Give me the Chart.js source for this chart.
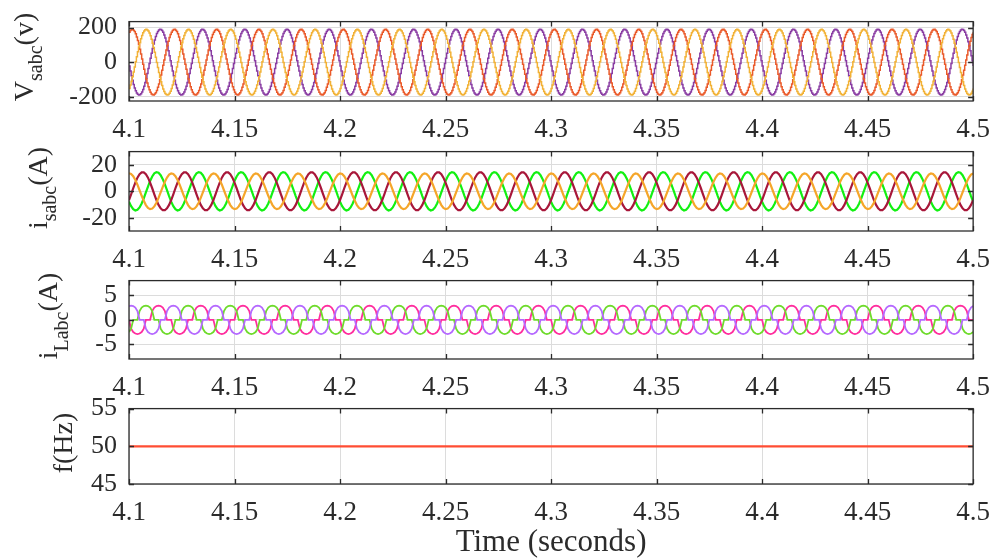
<!DOCTYPE html>
<html>
<head>
<meta charset="utf-8">
<script src="https://cdn.jsdelivr.net/npm/chart.js@4/dist/chart.umd.min.js"></script>
<style>
  html, body { margin: 0; padding: 0; background: #ffffff; }
  body { width: 1003px; height: 560px; overflow: hidden; position: relative; }
  canvas { position: absolute; left: 0; }
</style>
</head>
<body>
<canvas id="c1"></canvas>
<canvas id="c2"></canvas>
<canvas id="c3"></canvas>
<canvas id="c4"></canvas>
<script>
// ---------------- data ----------------
const timeStart = 4.1;
const timeEnd = 4.5;
const cycleMs = 20;              // 50 Hz: one cycle = 20 ms; each table below holds one cycle
const xTickValues = [4.1, 4.15, 4.2, 4.25, 4.3, 4.35, 4.4, 4.45, 4.5];
const xTickLabels = ['4.1', '4.15', '4.2', '4.25', '4.3', '4.35', '4.4', '4.45', '4.5'];

// source voltages, one cycle each, sampled every 0.5 ms (V)
const vsa = [174, 184, 189, 190, 185, 177, 164, 146, 126, 102, 75, 47, 18, -12, -41, -70, -97, -121, -143, -160,
             -174, -184, -189, -190, -185, -177, -164, -146, -126, -102, -75, -47, -18, 12, 41, 70, 97, 121, 143, 160];
const vsb = [-153, -133, -110, -85, -57, -28, 2, 31, 60, 88, 113, 135, 155, 170, 181, 188, 190, 187, 180, 169,
             153, 133, 110, 85, 57, 28, -2, -31, -60, -88, -113, -135, -155, -170, -181, -188, -190, -187, -180, -169];
const vsc = [-22, -51, -79, -105, -129, -149, -166, -178, -186, -190, -189, -183, -173, -158, -140, -118, -93, -66, -37, -8,
             22, 51, 79, 105, 129, 149, 166, 178, 186, 190, 189, 183, 173, 158, 140, 118, 93, 66, 37, 8];
const vTicks = [-200, 0, 200];
const vTickLabels = ['-200', '0', '200'];

// source currents, one cycle each, sampled every 1 ms (A)
const isa = [13.5, 13.1, 11.4, 8.6, 5.0, 0.8, -3.4, -7.2, -10.4, -12.6, -13.5, -13.1, -11.4, -8.6, -5.0, -0.8, 3.4, 7.2, 10.4, 12.6];
const isb = [-6.6, -2.3, 2.3, 6.6, 10.3, 12.9, 14.3, 14.3, 12.9, 10.3, 6.6, 2.3, -2.3, -6.6, -10.3, -12.9, -14.3, -14.3, -12.9, -10.3];
const isc = [-7.8, -11.2, -13.5, -14.5, -14.0, -12.2, -9.2, -5.3, -0.9, 3.6, 7.8, 11.2, 13.5, 14.5, 14.0, 12.2, 9.2, 5.3, 0.9, -3.6];
const iTicks = [-20, 0, 20];
const iTickLabels = ['-20', '0', '20'];

// load currents, one cycle each, sampled every 1 ms (A)
const iLa = [2.8, 2.9, 2.8, 2.5, 1.8, 0, 0, 0, -1.8, -2.5, -2.8, -2.9, -2.8, -2.5, -1.8, 0, 0, 0, 1.8, 2.5];
const iLb = [-2.5, -1.8, 0, 0, 0, 1.8, 2.5, 2.8, 2.9, 2.8, 2.5, 1.8, 0, 0, 0, -1.8, -2.5, -2.8, -2.9, -2.8];
const iLc = [0, -1.8, -2.5, -2.8, -2.9, -2.8, -2.5, -1.8, 0, 0, 0, 1.8, 2.5, 2.8, 2.9, 2.8, 2.5, 1.8, 0, 0];
const iLTicks = [-5, 0, 5];
const iLTickLabels = ['-5', '0', '5'];

// frequency (Hz)
const fTime = [4.1, 4.5];
const fValue = [50, 50];
const fTicks = [45, 50, 55];
const fTickLabels = ['45', '50', '55'];

// ---------------- helpers ----------------
function tile(cycle) {
  const pts = [];
  const stepMs = cycleMs / cycle.length;
  const n = Math.round((timeEnd - timeStart) * 1000 / stepMs);
  for (let k = 0; k <= n; k++) {
    pts.push({ x: +(timeStart + k * stepMs / 1000).toFixed(5), y: cycle[k % cycle.length] });
  }
  return pts;
}
function pairs(xs, ys) { return xs.map((x, i) => ({ x: x, y: ys[i] })); }

const PAGE_W = 1003;
const PLOT_LEFT = 129;
const PAD_TOP = 20;
const PAD_RIGHT = PAGE_W - 981;
const TXT = '#2b2b2b';
const SERIF = '"Liberation Serif", "Times New Roman", serif';

function drawRotatedLabel(ctx, parts, baseX, centerY) {
  ctx.save();
  ctx.fillStyle = TXT;
  ctx.textBaseline = 'alphabetic';
  ctx.textAlign = 'left';
  let total = 0;
  const widths = parts.map(p => { ctx.font = p.size + 'px ' + SERIF; const w = ctx.measureText(p.text).width; total += w; return w; });
  ctx.translate(baseX, centerY);
  ctx.rotate(-Math.PI / 2);
  let x = -total / 2;
  parts.forEach((p, i) => {
    ctx.font = p.size + 'px ' + SERIF;
    ctx.fillText(p.text, x, p.shift || 0);
    x += widths[i];
  });
  ctx.restore();
}

function makeChart(id, cfg) {
  const canvas = document.getElementById(id);
  const top = cfg.plotTop - PAD_TOP;
  const plotH = cfg.plotBottom - cfg.plotTop;
  const height = PAD_TOP + plotH + cfg.xAxisH;
  canvas.width = PAGE_W; canvas.height = height;
  canvas.style.width = PAGE_W + 'px'; canvas.style.height = height + 'px';
  canvas.style.top = top + 'px';

  const deco = {
    id: 'deco_' + id,
    afterDraw(chart) {
      const ctx = chart.ctx, a = chart.chartArea;
      const xs = chart.scales.x, ys = chart.scales.y;
      ctx.save();
      ctx.strokeStyle = TXT;
      ctx.lineWidth = 1.3;
      ctx.beginPath();
      xTickValues.forEach(v => {
        const px = Math.round(xs.getPixelForValue(v)) + 0.5;
        ctx.moveTo(px, a.top); ctx.lineTo(px, a.top + 5);
        ctx.moveTo(px, a.bottom); ctx.lineTo(px, a.bottom - 5);
      });
      cfg.yTicks.forEach(v => {
        const py = Math.round(ys.getPixelForValue(v)) + 0.5;
        ctx.moveTo(a.left, py); ctx.lineTo(a.left + 5, py);
        ctx.moveTo(a.right, py); ctx.lineTo(a.right - 5, py);
      });
      ctx.stroke();
      ctx.strokeRect(a.left, a.top, a.right - a.left, a.bottom - a.top);
      ctx.restore();
      drawRotatedLabel(ctx, cfg.label, cfg.labelX, cfg.labelY - top);
      if (cfg.xTitle) {
        ctx.save();
        ctx.fillStyle = TXT;
        ctx.font = '31px ' + SERIF;
        ctx.textAlign = 'center';
        ctx.textBaseline = 'middle';
        ctx.fillText(cfg.xTitle, (a.left + a.right) / 2, cfg.xTitleY - top);
        ctx.restore();
      }
    }
  };

  return new Chart(canvas, {
    type: 'line',
    data: { datasets: cfg.datasets },
    options: {
      responsive: false,
      animation: false,
      devicePixelRatio: 1,
      layout: { autoPadding: false, padding: { top: PAD_TOP, left: 0, right: PAD_RIGHT, bottom: 0 } },
      plugins: { legend: { display: false }, tooltip: { enabled: false } },
      elements: { point: { radius: 0 }, line: { tension: 0 } },
      scales: {
        x: {
          type: 'linear', min: timeStart, max: timeEnd,
          afterBuildTicks: s => { s.ticks = xTickValues.map(v => ({ value: v })); },
          afterFit: s => { s.height = cfg.xAxisH; },
          grid: { color: '#dcdcdc', lineWidth: 1, drawTicks: false },
          border: { display: false },
          ticks: {
            padding: 13, color: TXT, maxRotation: 0, autoSkip: false,
            font: { family: SERIF, size: 27 },
            callback: (v, i) => xTickLabels[i]
          }
        },
        y: {
          type: 'linear', min: cfg.yMin, max: cfg.yMax,
          afterBuildTicks: s => { s.ticks = cfg.yTicks.map(v => ({ value: v })); },
          afterFit: s => { s.width = PLOT_LEFT; },
          grid: { color: '#dcdcdc', lineWidth: 1, drawTicks: false },
          border: { display: false },
          ticks: {
            padding: 12, color: TXT, autoSkip: false,
            font: { family: SERIF, size: 26 },
            callback: (v, i) => cfg.yTickLabels[i]
          }
        }
      }
    },
    plugins: [deco]
  });
}

// ---------------- panels ----------------
makeChart('c1', {
  plotTop: 14, plotBottom: 101, xAxisH: 45,
  yMin: -225, yMax: 235, yTicks: vTicks, yTickLabels: vTickLabels,
  label: [{ text: 'V', size: 28 }, { text: 'sabc', size: 20, shift: 9 }, { text: '(v)', size: 28 }],
  labelX: 33, labelY: 57,
  datasets: [
    { data: tile(vsb), borderColor: '#F2B236', borderWidth: 1.5, stepped: true },
    { data: tile(vsa), borderColor: '#EA5A2A', borderWidth: 1.5, stepped: true },
    { data: tile(vsc), borderColor: '#8A3DA3', borderWidth: 1.5, stepped: true }
  ]
});

makeChart('c2', {
  plotTop: 144, plotBottom: 231, xAxisH: 45,
  yMin: -30, yMax: 30, yTicks: iTicks, yTickLabels: iTickLabels,
  label: [{ text: 'i', size: 28 }, { text: 'sabc', size: 20, shift: 9 }, { text: '(A)', size: 28 }],
  labelX: 47, labelY: 188,
  datasets: [
    { data: tile(isa), borderColor: '#F5A62A', borderWidth: 2.2 },
    { data: tile(isb), borderColor: '#A8173A', borderWidth: 2.2 },
    { data: tile(isc), borderColor: '#12F012', borderWidth: 2.2 }
  ]
});

makeChart('c3', {
  plotTop: 273, plotBottom: 359, xAxisH: 45,
  yMin: -8, yMax: 8, yTicks: iLTicks, yTickLabels: iLTickLabels,
  label: [{ text: 'i', size: 28 }, { text: 'Labc', size: 20, shift: 11 }, { text: '(A)', size: 28 }],
  labelX: 57, labelY: 316,
  datasets: [
    { data: tile(iLa), borderColor: '#B569FF', borderWidth: 1.8 },
    { data: tile(iLb), borderColor: '#6FDB2C', borderWidth: 1.8 },
    { data: tile(iLc), borderColor: '#FF2E9E', borderWidth: 1.8 }
  ]
});

makeChart('c4', {
  plotTop: 401, plotBottom: 484, xAxisH: 76,
  yMin: 45, yMax: 55, yTicks: fTicks, yTickLabels: fTickLabels,
  label: [{ text: 'f(Hz)', size: 28 }],
  labelX: 72, labelY: 443,
  xTitle: 'Time (seconds)', xTitleY: 543,
  datasets: [
    { data: pairs(fTime, fValue), borderColor: '#FF4D33', borderWidth: 2.2 }
  ]
});
</script>
</body>
</html>
